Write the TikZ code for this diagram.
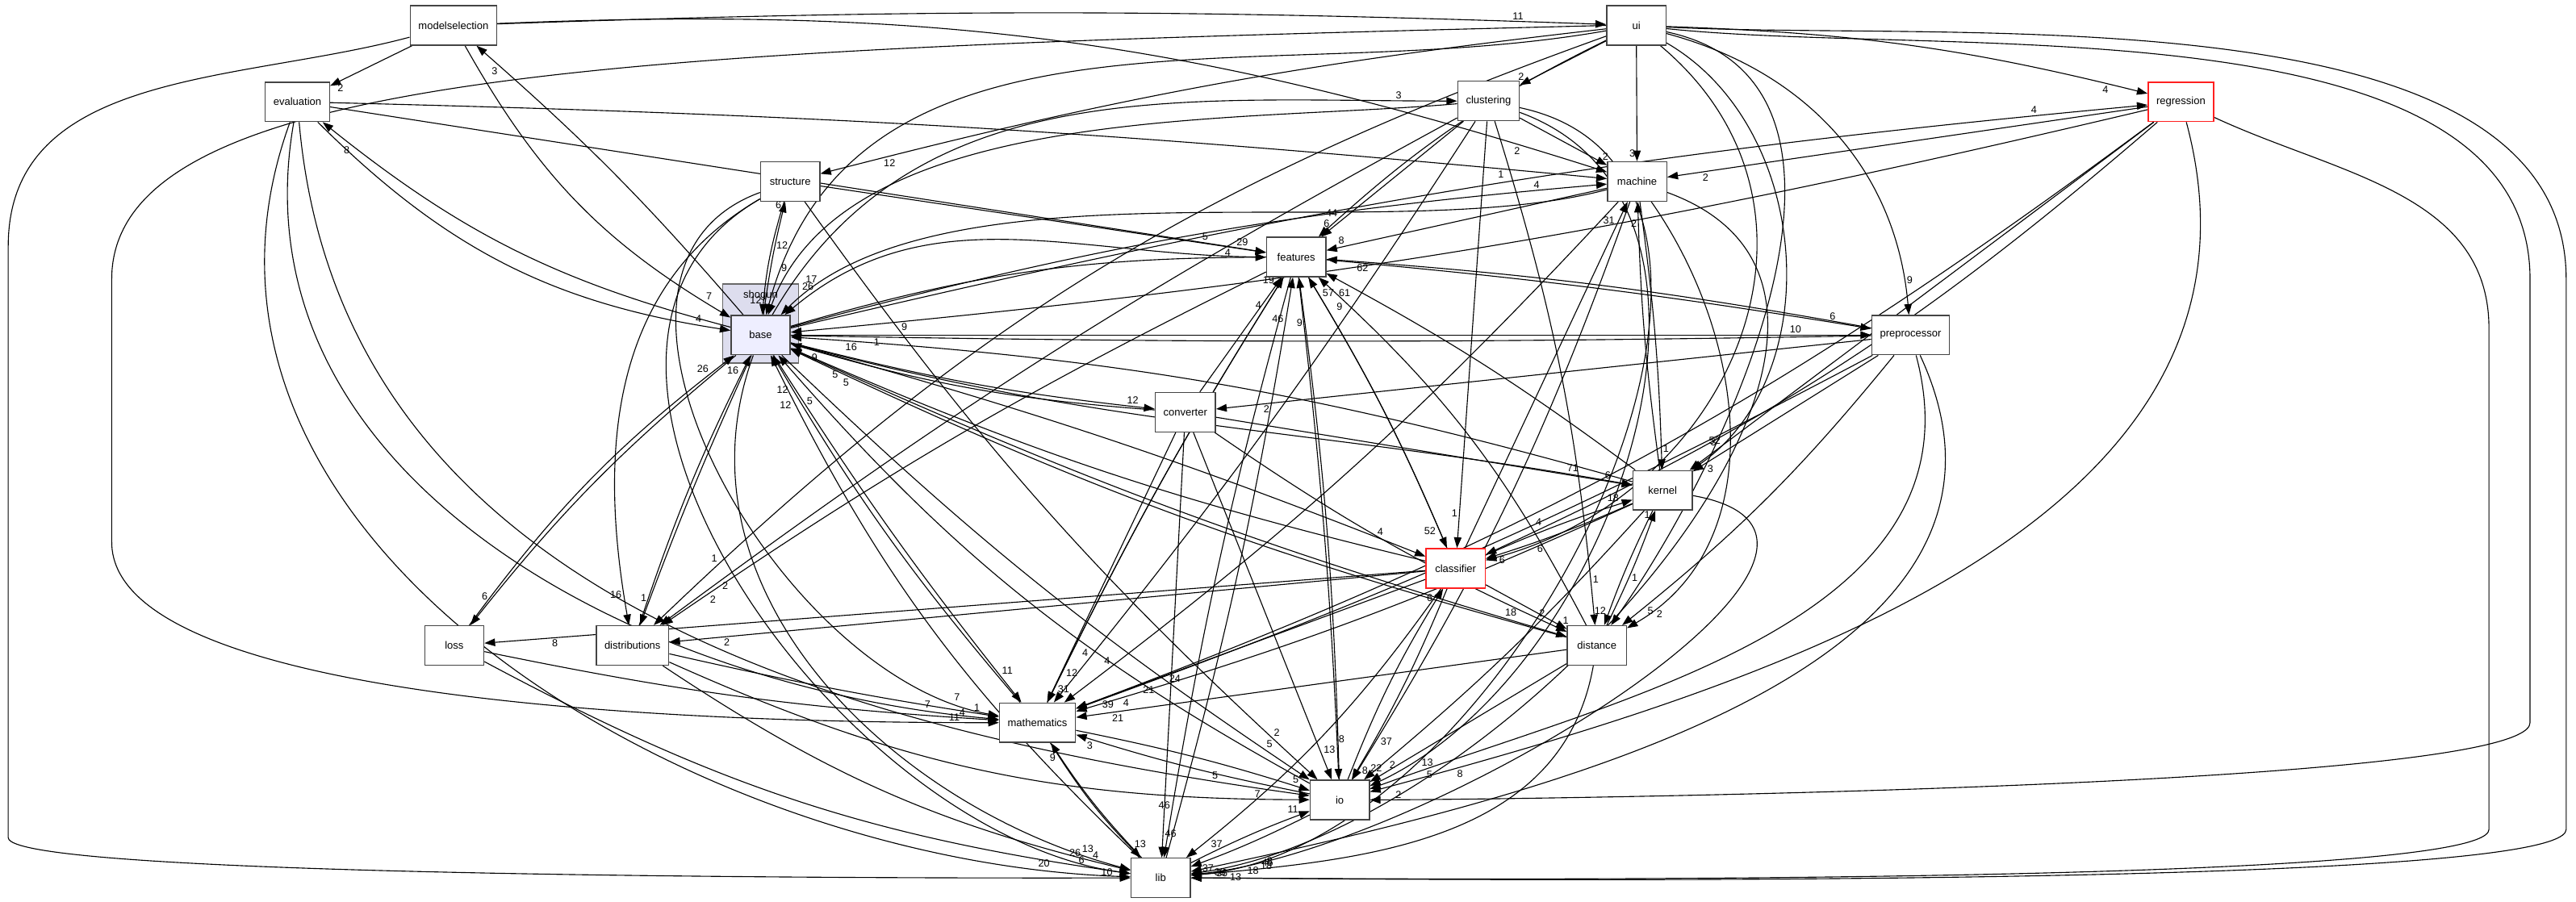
\documentclass[tikz,border=0pt]{standalone}
\usepackage{fontspec}
\setmainfont{Liberation Sans}
\usetikzlibrary{arrows.meta}

\definecolor{dirline}{HTML}{444444}
\definecolor{dirred}{HTML}{FF2020}
\definecolor{grpfill}{HTML}{DDDDEE}
\definecolor{basefill}{HTML}{EEEEFF}

\pgfdeclarelayer{grp}
\pgfdeclarelayer{edges}
\pgfsetlayers{grp,edges,main}

\tikzset{
  dirbox/.style={rectangle, draw=dirline, fill=white, line width=0.7pt,
    minimum width=36pt, minimum height=24pt, inner xsep=5pt,
    font=\fontsize{6.4}{7}\selectfont},
  redbox/.style={dirbox, draw=dirred},
  dep/.style={->, line width=0.55pt},
  hl/.style={pos=0.93, inner sep=0.8pt, font=\fontsize{6.2}{7}\selectfont},
}

\begin{document}
\begin{tikzpicture}[x=1pt, y=1pt, >={Triangle[length=6.5pt,width=4.6pt]}, auto]
\useasboundingbox (0,0) rectangle (1568,-549);

% shogun group round base
\begin{pgfonlayer}{grp}
\draw[draw=dirline!80, fill=grpfill, line width=0.7pt] (440,-173) rectangle (486,-221);
\node[font=\fontsize{6.4}{7}\selectfont] (shogun) at (463,-180) {shogun};
\end{pgfonlayer}

\node[dirbox] (modelselection) at (276,-15.5) {modelselection};
\node[dirbox] (ui) at (996,-15.5) {ui};
\node[dirbox] (evaluation) at (181,-62) {evaluation};
\node[dirbox] (clustering) at (906,-61.5) {clustering};
\node[redbox] (regression) at (1327.5,-62) {regression};
\node[dirbox] (structure) at (481,-110.5) {structure};
\node[dirbox] (machine) at (996.5,-110.5) {machine};
\node[dirbox] (features) at (789,-156.5) {features};
\node[dirbox, fill=basefill] (base) at (463,-204) {base};
\node[dirbox] (preprocessor) at (1163,-204) {preprocessor};
\node[dirbox] (converter) at (721.5,-251) {converter};
\node[dirbox] (kernel) at (1012,-298.5) {kernel};
\node[redbox] (classifier) at (886,-346) {classifier};
\node[dirbox] (loss) at (276.5,-393) {loss};
\node[dirbox] (distributions) at (385,-393) {distributions};
\node[dirbox] (distance) at (972,-393) {distance};
\node[dirbox] (mathematics) at (631.5,-440) {mathematics};
\node[dirbox] (io) at (815.5,-487) {io};
\node[dirbox] (lib) at (706.5,-534.5) {lib};

\begin{pgfonlayer}{edges}
% top row
\path[dep]
  (modelselection) edge[bend left=2] node[hl] {11} (ui)
  (modelselection) edge node[hl] {2} (evaluation)
  (modelselection) edge[bend left=10] node[hl, swap] {2} (machine)
  (modelselection) edge[bend right=15] node[hl] {7} (base)
  (base) edge[bend right=4] node[hl] {3} (modelselection);
\draw[dep] (modelselection) to[out=195, in=90] (5,-150)
  -- (5,-510) to[out=-90, in=180, looseness=0.1] node[hl] {10} (lib);

\path[dep]
  (ui) edge node[hl, swap] {2} (clustering)
  (ui) edge node[hl, swap] {3} (machine)
  (ui) edge[bend left=6] node[hl, swap] {4} (regression)
  (ui) edge[out=-15, in=95] node[hl] {9} (preprocessor)
  (ui) edge[out=-30, in=35] node[hl, swap] {3} (kernel)
  (ui) edge[out=-40, in=15, looseness=1.2] node[hl] {6} (classifier)
  (ui) edge[out=-12, in=55] node[hl, swap] {1} (distance)
  (ui) edge[bend right=8] node[hl, swap] {44} (features)
  (ui) edge[out=190, in=75] node[hl, swap] {12} (base)
  (ui) edge[bend right=4] node[hl] {12} (structure)
  (ui) edge[bend right=12] node[hl, swap] {1} (distributions);
\draw[dep] (ui.west) .. controls (400,-30) and (68,-40) .. (68,-170)
  -- (68,-330) to[out=-90, in=180, looseness=0.5] node[hl] {11} (mathematics);
\draw[dep] (ui) to[out=-6, in=90, looseness=0.8] (1540,-170)
  -- (1540,-440) to[out=-90, in=0, looseness=0.15] node[hl, swap] {2} (io);
\draw[dep] (ui) to[out=-3, in=90, looseness=0.8] (1562,-170)
  -- (1562,-505) to[out=-90, in=0, looseness=0.12] node[hl, swap] {36} (lib);

\path[dep]
  (evaluation) edge[bend left=2] node[hl, swap] {1} (machine)
  (evaluation) edge node[hl] {5} (features)
  (evaluation) edge[bend right=18] node[hl] {4} (base)
  (evaluation) edge[out=-110, in=178] node[hl] {20} (lib)
  (evaluation) edge[out=-100, in=175] node[hl] {7} (mathematics)
  (evaluation) edge[out=-85, in=172] node[hl] {5} (io)
  (base) edge[bend left=12] node[hl] {8} (evaluation);

\path[dep]
  (clustering) edge node[hl] {2} (machine)
  (clustering) edge node[hl, swap] {6} (features)
  (clustering) edge[out=185, in=70, looseness=0.8] node[hl, swap] {9} (base)
  (clustering) edge[bend right=4] node[hl] {2} (distributions)
  (clustering) edge node[hl, swap] {1} (classifier)
  (clustering) edge[bend left=6] node[hl] {1} (distance)
  (clustering) edge[out=-20, in=25] node[hl] {13} (io)
  (clustering) edge[out=-12, in=5] node[hl] {18} (lib)
  (clustering) edge[bend left=3] node[hl, swap] {4} (mathematics)
  (base) edge[out=60, in=180] node[hl] {3} (clustering);

\path[dep]
  (regression) edge node[hl] {2} (machine)
  (regression) edge[bend left=4] node[hl] {9} (base)
  (regression) edge node[hl, swap] {52} (kernel)
  (regression) edge[bend left=8] node[hl, swap] {4} (classifier)
  (regression) edge[bend left=8] node[hl] {24} (mathematics)
  (regression) edge[out=-75, in=15] node[hl] {8} (io)
  (base) edge[bend left=4] node[hl] {4} (regression);
\draw[dep] (regression) to[out=-25, in=90] (1515,-200)
  -- (1515,-505) to[out=-90, in=0, looseness=0.12] node[hl, swap] {33} (lib);

\path[dep]
  (structure) edge node[hl] {29} (features)
  (structure) edge[bend right=6] node[hl, swap] {12} (base)
  (structure) edge[out=-150, in=100] node[hl, swap] {16} (distributions)
  (structure) edge[out=-160, in=170] node[hl] {7} (mathematics)
  (structure) edge[out=-150, in=172] node[hl] {26} (lib)
  (structure) edge[bend right=6] node[hl] {2} (io)
  (base) edge[bend left=3] node[hl] {6} (structure);

\path[dep]
  (machine) edge node[hl, swap] {8} (features)
  (machine) edge[out=195, in=45, looseness=0.7] node[hl, swap] {17} (base)
  (machine) edge[bend left=3] node[hl] {1} (kernel)
  (machine) edge[out=-55, in=30] node[hl] {2} (distance)
  (machine) edge[bend left=5] node[hl, swap] {4} (mathematics)
  (machine) edge[bend left=6] node[hl] {37} (io)
  (machine) edge[out=-20, in=8] node[hl] {46} (lib);

\path[dep]
  (features) edge[out=180, in=40] node[hl, swap] {26} (base)
  (features) edge[bend left=2] node[hl] {6} (preprocessor)
  (features) edge[bend left=2] node[hl] {8} (io)
  (features) edge[bend right=3] node[hl, swap] {46} (lib)
  (features) edge[bend right=3] node[hl] {12} (mathematics)
  (features) edge[bend right=4] node[hl] {2} (distributions)
  (features) edge[bend left=4] node[hl, swap] {52} (classifier);

\path[dep]
  (base) edge node[hl] {10} (preprocessor)
  (base) edge[bend right=4] node[hl] {12} (converter)
  (base) edge[bend left=8] node[hl] {4} (features)
  (base) edge[bend right=5] node[hl] {5} (io)
  (base) edge[bend right=3] node[hl] {11} (mathematics)
  (base) edge[bend left=5] node[hl] {4} (machine)
  (base) edge[out=-15, in=170] node[hl] {71} (kernel)
  (base) edge[bend left=3] node[hl] {4} (classifier)
  (base) edge[bend right=4] node[hl] {18} (distance)
  (base) edge[bend right=6] node[hl, swap] {6} (loss)
  (base) edge[bend right=2] node[hl, swap] {1} (distributions)
  (base) edge[out=-110, in=165] node[hl] {13} (lib);

\path[dep]
  (preprocessor) edge[bend left=1] node[hl] {1} (base)
  (preprocessor) edge[bend right=3] node[hl] {62} (features)
  (preprocessor) edge node[hl] {2} (converter)
  (preprocessor) edge node[hl] {3} (kernel)
  (preprocessor) edge[bend left=6] node[hl] {5} (distance)
  (preprocessor) edge[bend left=4] node[hl] {21} (mathematics)
  (preprocessor) edge[out=-75, in=20] node[hl] {5} (io)
  (preprocessor) edge[out=-65, in=12] node[hl] {8} (lib);

\path[dep]
  (converter) edge node[hl] {19} (features)
  (converter) edge[bend left=6] node[hl] {9} (base)
  (converter) edge node[hl] {6} (kernel)
  (converter) edge node[hl] {31} (mathematics)
  (converter) edge[bend right=5] node[hl] {2} (distance)
  (converter) edge node[hl] {13} (io)
  (converter) edge node[hl] {46} (lib);

\path[dep]
  (kernel) edge[bend left=3] node[hl] {2} (machine)
  (kernel) edge[bend right=4] node[hl] {61} (features)
  (kernel) edge[bend right=6] node[hl] {16} (base)
  (kernel) edge[bend left=3] node[hl] {6} (classifier)
  (kernel) edge[bend right=3] node[hl, swap] {12} (distance)
  (kernel) edge[bend left=4] node[hl] {4} (mathematics)
  (kernel) edge[bend left=4] node[hl] {2} (io)
  (kernel) edge[out=-10, in=6] node[hl] {18} (lib);

\path[dep]
  (classifier) edge node[hl] {31} (machine)
  (classifier) edge[bend right=4] node[hl, swap] {57} (features)
  (classifier) edge[bend left=5] node[hl] {5} (base)
  (classifier) edge[bend left=3] node[hl] {18} (kernel)
  (classifier) edge node[hl] {1} (distance)
  (classifier) edge node[hl] {8} (loss)
  (classifier) edge node[hl] {2} (distributions)
  (classifier) edge node[hl] {39} (mathematics)
  (classifier) edge[bend left=4] node[hl] {8} (io)
  (classifier) edge[bend left=8] node[hl] {37} (lib);

\path[dep]
  (distance) edge[bend right=10] node[hl] {9} (features)
  (distance) edge[bend left=5] node[hl] {5} (base)
  (distance) edge[bend right=3] node[hl] {1} (kernel)
  (distance) edge node[hl] {21} (mathematics)
  (distance) edge node[hl, swap] {22} (io)
  (distance) edge[out=-100, in=5] node[hl] {13} (lib);

\path[dep]
  (loss) edge[bend right=4] node[hl] {4} (mathematics)
  (loss) edge[bend right=10] node[hl] {6} (lib)
  (loss) edge[bend left=8] node[hl] {26} (base)
  (distributions) edge[bend left=4] node[hl] {16} (base)
  (distributions) edge[bend right=2] node[hl] {1} (mathematics)
  (distributions) edge[bend right=12] node[hl] {7} (io)
  (distributions) edge[bend right=10] node[hl] {4} (lib)
  (mathematics) edge[bend left=5] node[hl] {12} (base)
  (mathematics) edge[bend left=3] node[hl] {5} (io)
  (mathematics) edge[bend right=6] node[hl] {13} (lib)
  (mathematics) edge[bend left=3] node[hl] {4} (features)
  (io) edge[bend left=10] node[hl] {5} (base)
  (io) edge[bend right=3] node[hl] {9} (features)
  (io) edge[bend left=3] node[hl] {3} (mathematics)
  (io) edge[bend left=5] node[hl] {6} (classifier)
  (io) edge[bend left=3] node[hl] {37} (lib)
  (lib) edge[bend left=3] node[hl] {11} (io)
  (lib) edge[bend left=5] node[hl] {9} (mathematics)
  (lib) edge[bend right=3] node[hl] {46} (features)
  (lib) edge[bend left=10] node[hl] {12} (base);
\end{pgfonlayer}
\end{tikzpicture}
\end{document}
